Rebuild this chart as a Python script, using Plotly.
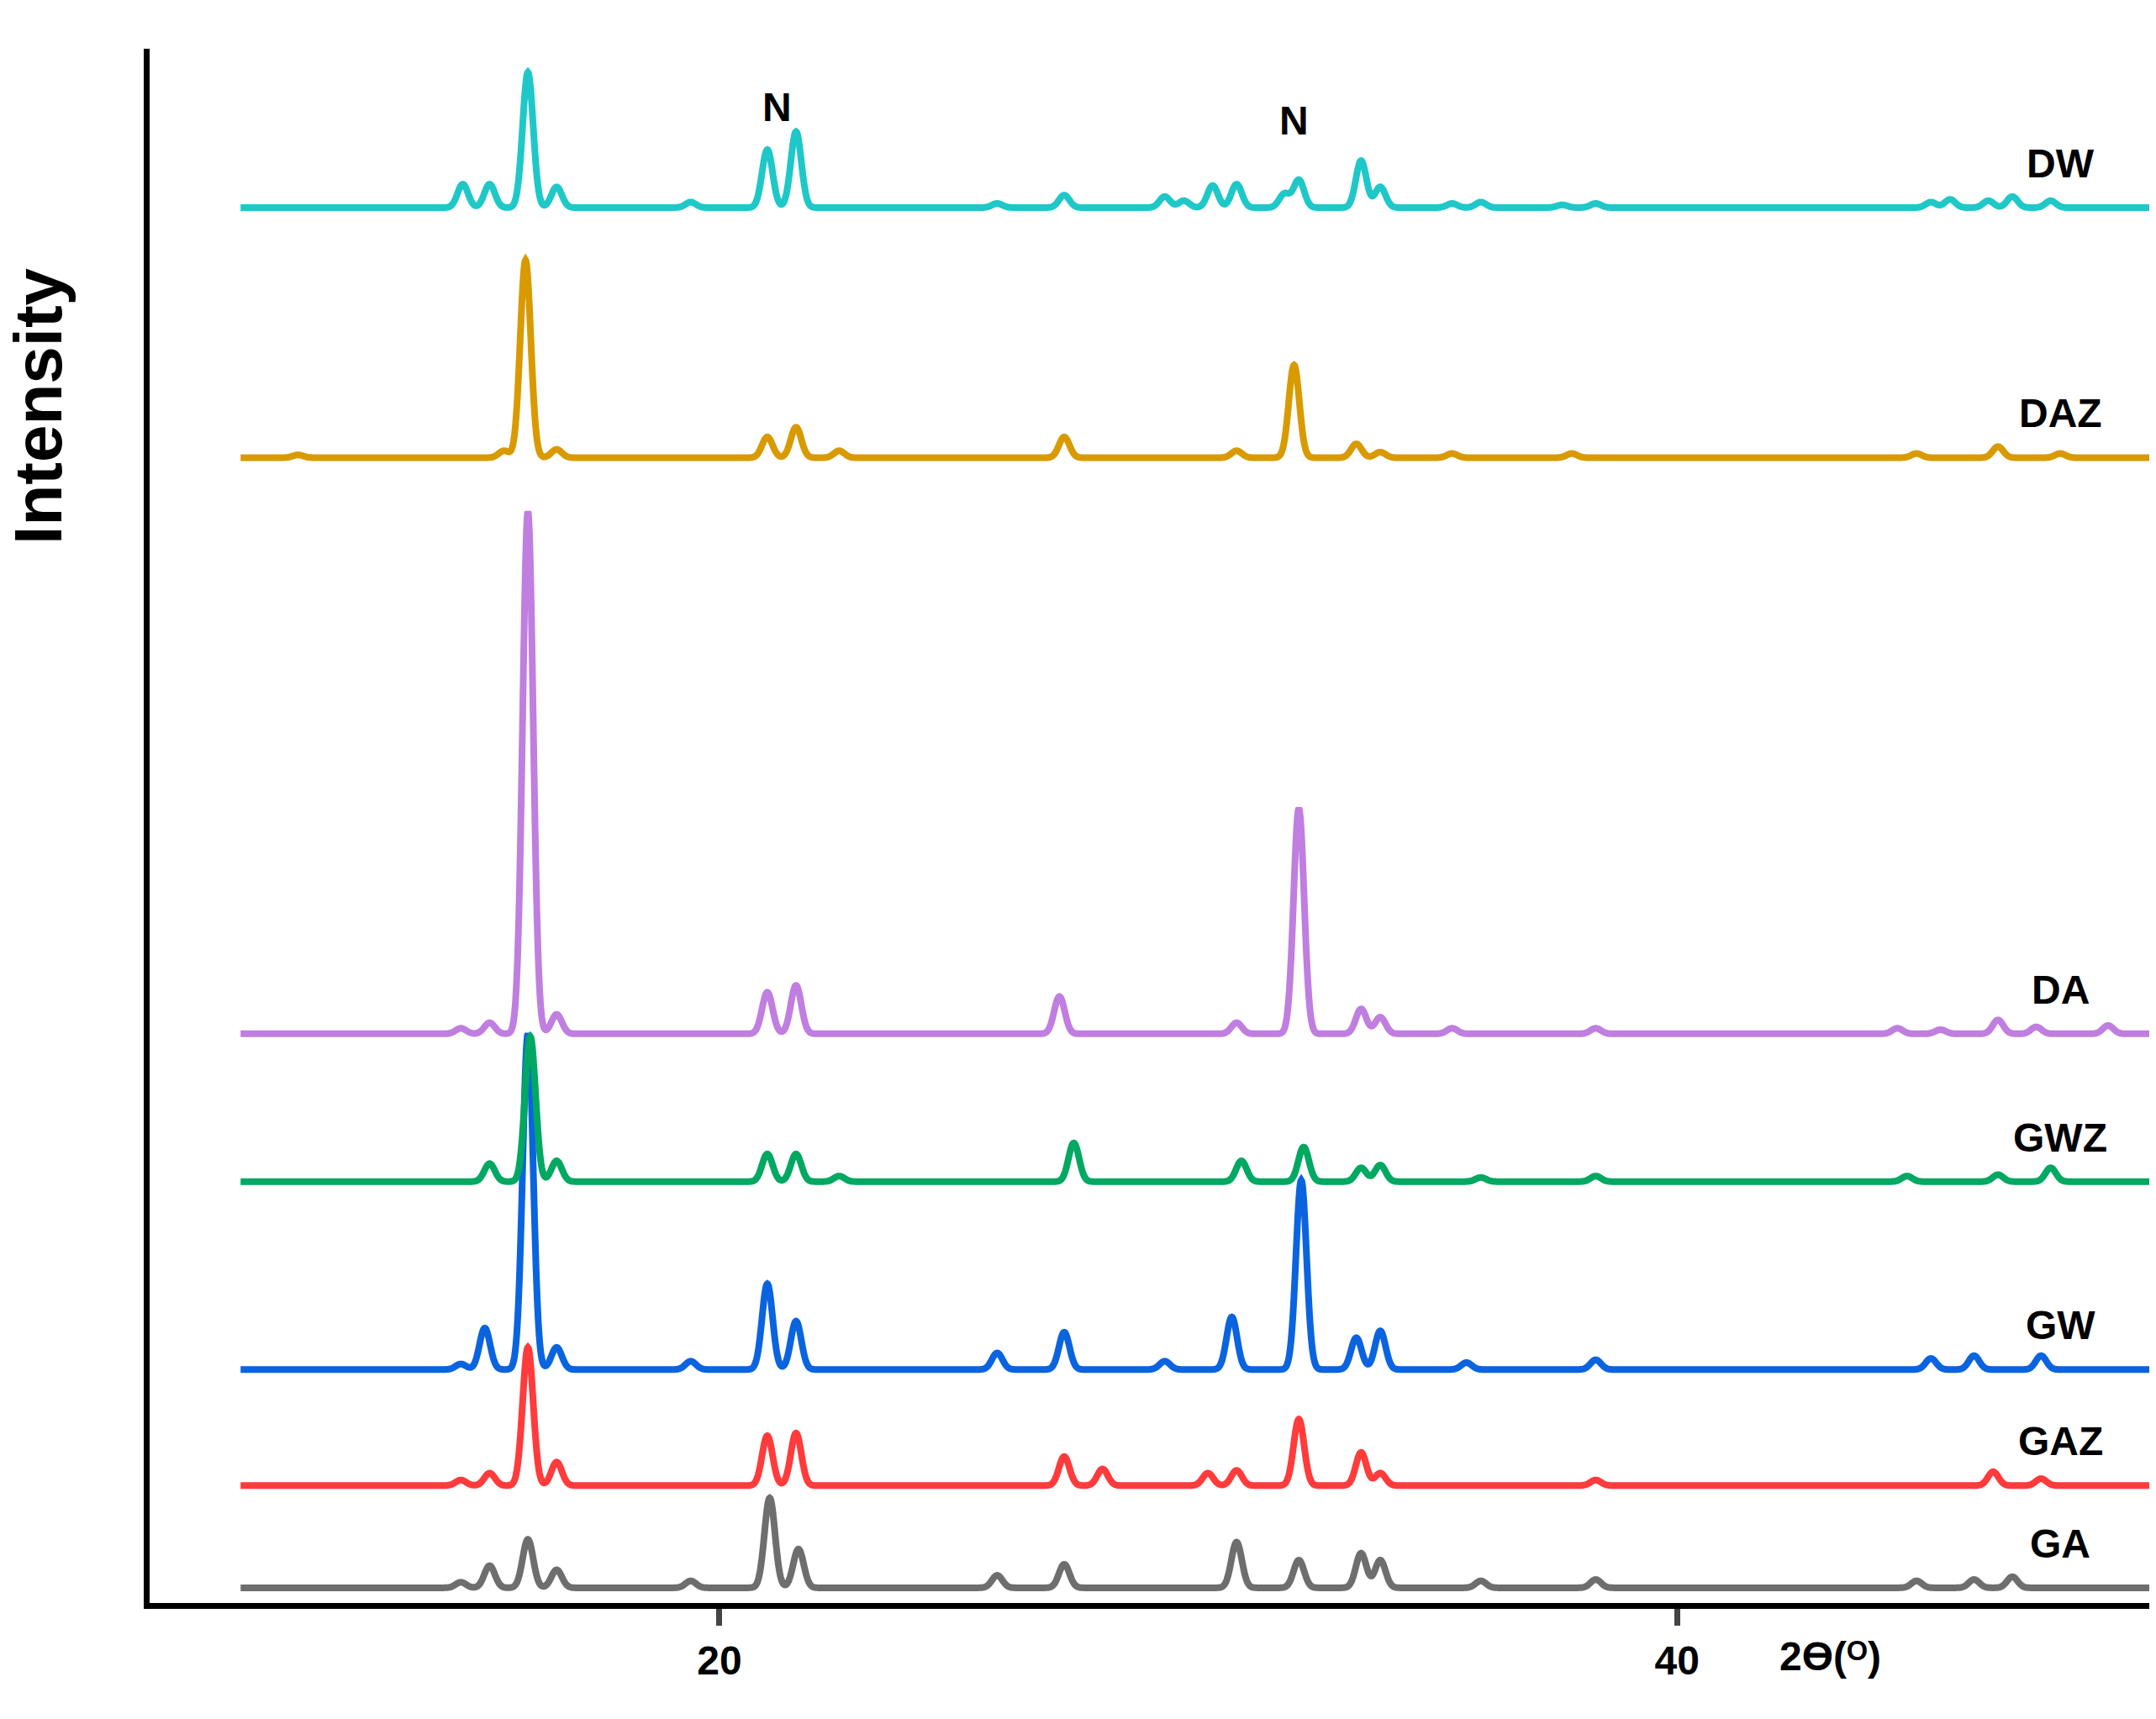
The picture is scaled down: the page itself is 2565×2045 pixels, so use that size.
import numpy as np
import plotly.graph_objects as go

names = ["GA", "GAZ", "GW", "GWZ", "DA", "DAZ", "DW"]
colors = ["#6e6e6e", "#ff3b3b", "#0a64e0", "#00a862", "#c07ee0", "#d99a00", "#1fc8c8"]
offsets = [11, 85, 169, 305, 412, 829, 1010]

GA_pos = [14.6, 15.2, 16.0, 16.6, 19.4, 21.05, 21.65, 25.8, 27.2, 30.8, 32.1, 33.4, 33.8, 35.9, 38.3, 45.0, 46.2, 47.0]
GA_h = [4, 16, 35, 13, 5, 65, 28, 9, 17, 33, 20, 25, 20, 5, 6, 5, 6, 8]
GAZ_pos = [14.6, 15.2, 16.0, 16.6, 21.0, 21.6, 27.2, 28.0, 30.2, 30.8, 32.1, 33.4, 33.8, 38.3, 46.6, 47.6]
GAZ_h = [4, 9, 100, 17, 36, 38, 21, 12, 9, 11, 48, 24, 9, 4, 10, 5]
GW_pos = [14.6, 15.1, 16.0, 16.6, 19.4, 21.0, 21.6, 25.8, 27.2, 29.3, 30.7, 32.15, 33.3, 33.8, 35.6, 38.3, 45.3, 46.2, 47.6]
GW_h = [4, 30, 243, 16, 6, 62, 35, 12, 27, 6, 38, 137, 23, 28, 5, 7, 8, 10, 10]
GWZ_pos = [15.2, 16.05, 16.6, 21.0, 21.6, 22.5, 27.4, 30.9, 32.2, 33.4, 33.8, 35.9, 38.3, 44.8, 46.7, 47.8]
GWZ_h = [13, 105, 15, 20, 20, 4, 28, 15, 25, 10, 12, 3, 4, 4, 5, 10]
DA_pos = [14.6, 15.2, 16.0, 16.6, 21.0, 21.6, 27.1, 30.8, 32.1, 33.4, 33.8, 35.3, 38.3, 44.6, 45.5, 46.7, 47.5, 49.0]
DA_h = [4, 8, 378, 14, 30, 35, 27, 8, 163, 18, 12, 4, 4, 4, 3, 10, 5, 6]
DAZ_pos = [11.2, 15.5, 15.95, 16.6, 21.0, 21.6, 22.5, 27.2, 30.8, 32.0, 33.3, 33.8, 35.3, 37.8, 45.0, 46.7, 48.0]
DAZ_h = [2, 5, 143, 6, 15, 22, 5, 15, 5, 67, 10, 4, 3, 3, 3, 8, 3]
DW_pos = [14.64, 15.2, 16.0, 16.6, 19.4, 21.0, 21.6, 25.8, 27.2, 29.3, 29.7, 30.3, 30.8, 31.8, 32.1, 33.4, 33.8, 35.3, 35.9, 37.6, 38.3, 45.3, 45.7, 46.5, 47.0, 47.8]
DW_h = [17, 17, 98, 15, 4, 42, 55, 3, 9, 8, 5, 16, 17, 10, 20, 34, 15, 3, 4, 2, 3, 4, 6, 5, 8, 5]

peaks = [(GA_pos, GA_h), (GAZ_pos, GAZ_h), (GW_pos, GW_h), (GWZ_pos, GWZ_h),
         (DA_pos, DA_h), (DAZ_pos, DAZ_h), (DW_pos, DW_h)]

x = np.arange(10, 50.001, 0.01)
w = 0.11
F = "Liberation Sans"
fig = go.Figure()
for n, c, off, (pos, h) in zip(names, colors, offsets, peaks):
    y = np.full_like(x, float(off))
    for p, hh in zip(pos, h):
        y += hh * np.exp(-0.5 * ((x - p) / w) ** 2)
    fig.add_trace(go.Scatter(x=x, y=y, mode="lines", line=dict(color=c, width=8, simplify=False),
                             name=n, showlegend=False))
    fig.add_annotation(x=48.0, y=off + 32, text="<b>%s</b>" % n, showarrow=False,
                       font=dict(size=48, color="black", family=F))

for px, py in [(15.9, 1130), (21.2, 1083), (32.0, 1073)]:
    fig.add_annotation(x=px, y=py, text="<b>N</b>", showarrow=False,
                       font=dict(size=48, color="black", family=F))
fig.add_annotation(x=43.2, xref="x", y=-0.05, yref="paper", text="<b>2ϴ(ᴼ)</b>", showarrow=False,
                   font=dict(size=48, color="black", family=F))
fig.add_annotation(x=-0.075, xref="paper", y=0.86, yref="paper", text="<b>Intensity</b>", textangle=-90,
                   showarrow=False, font=dict(size=80, color="black", family=F))

fig.update_layout(
    width=2565, height=2045, plot_bgcolor="white", paper_bgcolor="white",
    margin=dict(l=170, r=8, t=50, b=146),
    xaxis=dict(range=[8.1, 50], tickvals=[20, 40], ticktext=["<b>20</b>", "<b>40</b>"],
               showline=True, linecolor="black", linewidth=7, ticks="outside", ticklen=20, tickwidth=7,
               tickfont=dict(size=48, family=F, color="black"), showgrid=False, zeroline=False),
    yaxis=dict(range=[0, 1125], showticklabels=False, showline=True, linecolor="black", linewidth=7,
               showgrid=False, zeroline=False),
)
fig.write_html("out.html")
